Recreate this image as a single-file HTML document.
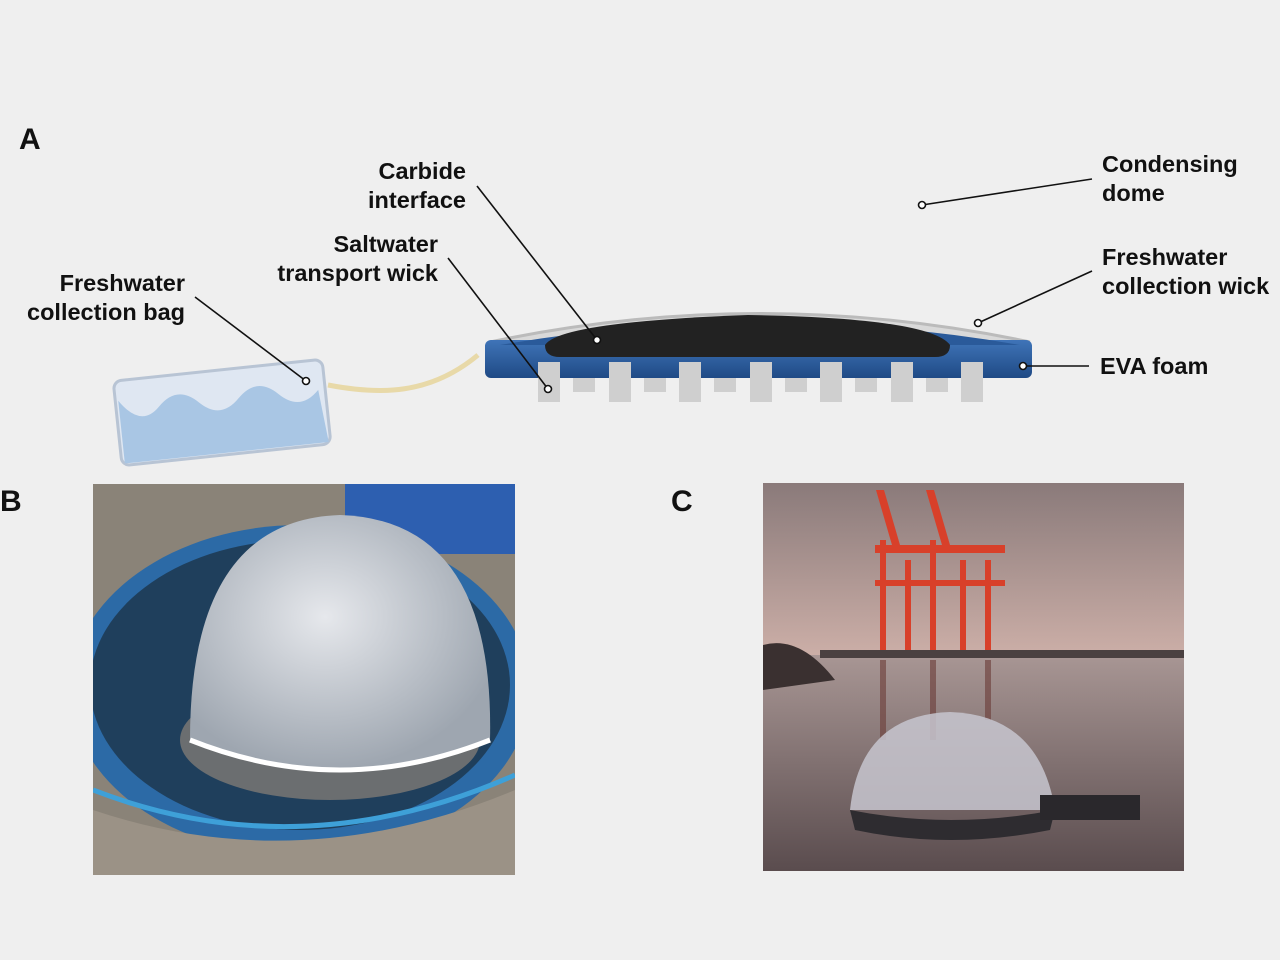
<!DOCTYPE html>
<html><head><meta charset="utf-8"><style>
html,body{margin:0;padding:0;background:#efefef;}
body{width:1280px;height:960px;position:relative;overflow:hidden;font-family:"Liberation Sans",sans-serif;}
.t{position:absolute;font-weight:bold;font-size:23.5px;color:#111;line-height:29px;}
.L{position:absolute;font-weight:bold;font-size:30px;color:#111;}
</style></head><body>
<svg width="1280" height="960" style="position:absolute;left:0;top:0">
<defs>
<linearGradient id="bar" x1="0" y1="0" x2="0" y2="1"><stop offset="0" stop-color="#3f74b8"/><stop offset="1" stop-color="#1f4a85"/></linearGradient>
<linearGradient id="sky" x1="0" y1="0" x2="0" y2="1"><stop offset="0" stop-color="#8a7a7a"/><stop offset="0.5" stop-color="#d4b5ad"/><stop offset="1" stop-color="#c9aaa5"/></linearGradient>
<linearGradient id="water" x1="0" y1="0" x2="0" y2="1"><stop offset="0" stop-color="#a89694"/><stop offset="1" stop-color="#5a4c4e"/></linearGradient>
<radialGradient id="domeB" cx="0.45" cy="0.4" r="0.6"><stop offset="0" stop-color="#e6e8ec"/><stop offset="1" stop-color="#9ea6b0"/></radialGradient>
<clipPath id="cb"><rect x="93" y="484" width="422" height="391"/></clipPath>
<clipPath id="cc"><rect x="763" y="483" width="421" height="388"/></clipPath>
</defs>
<g transform="rotate(-6 222 412)">
<rect x="117" y="370" width="210" height="85" rx="8" fill="#dfe7f2" stroke="#b8c4d4" stroke-width="3"/>
<path d="M120 390 q20 30 40 10 t40 0 t40 0 t40 0 t40 0 L325 453 L120 453 Z" fill="#a9c6e4"/>
</g>
<path d="M328 385 C380 395 430 395 478 355" stroke="#e8d9a8" stroke-width="5" fill="none"/>
<path d="M490 342 Q760 285 1030 342" fill="#d9d9d9" stroke="#bbb" stroke-width="3"/>
<rect x="485" y="340" width="547" height="38" rx="6" fill="url(#bar)"/>
<path d="M500 345 Q760 300 1020 345 Z" fill="#2a5a9a"/>
<path d="M560 357 Q545 357 545 345 Q560 322 748 315 Q930 318 950 345 Q950 357 935 357 Z" fill="#222"/>
<g fill="#cfcfcf">
<rect x="538" y="362" width="22" height="40"/><rect x="609" y="362" width="22" height="40"/><rect x="679" y="362" width="22" height="40"/><rect x="750" y="362" width="22" height="40"/><rect x="820" y="362" width="22" height="40"/><rect x="891" y="362" width="22" height="40"/><rect x="961" y="362" width="22" height="40"/>
<rect x="573" y="378" width="22" height="14"/><rect x="644" y="378" width="22" height="14"/><rect x="714" y="378" width="22" height="14"/><rect x="785" y="378" width="22" height="14"/><rect x="855" y="378" width="22" height="14"/><rect x="926" y="378" width="22" height="14"/>
</g>
<g stroke="#111" stroke-width="1.6" fill="#fff">
<line x1="195" y1="297" x2="306" y2="381"/><circle cx="306" cy="381" r="3.5"/>
<line x1="448" y1="258" x2="548" y2="389"/><circle cx="548" cy="389" r="3.5"/>
<line x1="477" y1="186" x2="597" y2="340"/><circle cx="597" cy="340" r="3.5"/>
<line x1="1092" y1="179" x2="922" y2="205"/><circle cx="922" cy="205" r="3.5"/>
<line x1="1092" y1="271" x2="978" y2="323"/><circle cx="978" cy="323" r="3.5"/>
<line x1="1089" y1="366" x2="1023" y2="366"/><circle cx="1023" cy="366" r="3.5"/>
</g>
<g clip-path="url(#cb)">
<rect x="93" y="484" width="422" height="391" fill="#8a8378"/>
<rect x="345" y="484" width="170" height="70" fill="#2d5fb0"/>
<ellipse cx="300" cy="690" rx="230" ry="165" fill="#2c6aa6"/>
<ellipse cx="300" cy="685" rx="210" ry="145" fill="#1f3f5c"/>
<ellipse cx="330" cy="740" rx="150" ry="60" fill="#6b6e70"/>
<path d="M190 740 Q190 520 340 515 Q495 520 490 740 Q340 800 190 740Z" fill="url(#domeB)"/>
<path d="M190 740 Q340 800 490 740" stroke="#fff" stroke-width="5" fill="none"/>
<path d="M93 810 Q300 880 515 790 L515 875 L93 875Z" fill="#9b9286"/>
<path d="M93 790 Q300 870 515 775" stroke="#3ea0d8" stroke-width="5" fill="none"/>
</g>
<g clip-path="url(#cc)">
<rect x="763" y="483" width="421" height="388" fill="url(#sky)"/>
<rect x="763" y="655" width="421" height="216" fill="url(#water)"/>
<path d="M763 645 Q800 635 835 680 L763 690Z" fill="#3a3030"/>
<rect x="820" y="650" width="364" height="8" fill="#4a4040"/>
<g fill="#d8402a">
<rect x="880" y="540" width="6" height="110"/><rect x="905" y="560" width="6" height="90"/><rect x="930" y="540" width="6" height="110"/><rect x="960" y="560" width="6" height="90"/><rect x="985" y="560" width="6" height="90"/>
<rect x="875" y="545" width="130" height="8"/><rect x="875" y="580" width="130" height="6"/>
<polygon points="876,490 884,490 900,545 892,545"/><polygon points="926,490 934,490 950,545 942,545"/>
</g>
<g fill="#6a3a36" opacity="0.6"><rect x="880" y="660" width="6" height="80"/><rect x="930" y="660" width="6" height="80"/><rect x="985" y="660" width="6" height="60"/></g>
<path d="M850 810 Q860 715 950 712 Q1040 715 1055 810Z" fill="#c7c6cf" opacity="0.85"/>
<path d="M850 810 Q950 830 1055 810 L1050 830 Q950 850 855 830Z" fill="#2e2c30"/>
<rect x="1040" y="795" width="100" height="25" fill="#2a282c"/>
</g>
</svg>
<div class="L" style="left:19px;top:123px">A</div>
<div class="L" style="left:0px;top:485px">B</div>
<div class="L" style="left:671px;top:485px">C</div>
<div class="t" style="left:5px;top:269px;text-align:right;width:180px">Freshwater<br>collection bag</div>
<div class="t" style="left:248px;top:230px;text-align:right;width:190px">Saltwater<br>transport wick</div>
<div class="t" style="left:326px;top:157px;text-align:right;width:140px">Carbide<br>interface</div>
<div class="t" style="left:1102px;top:150px">Condensing<br>dome</div>
<div class="t" style="left:1102px;top:243px">Freshwater<br>collection wick</div>
<div class="t" style="left:1100px;top:352px">EVA foam</div>
</body></html>
